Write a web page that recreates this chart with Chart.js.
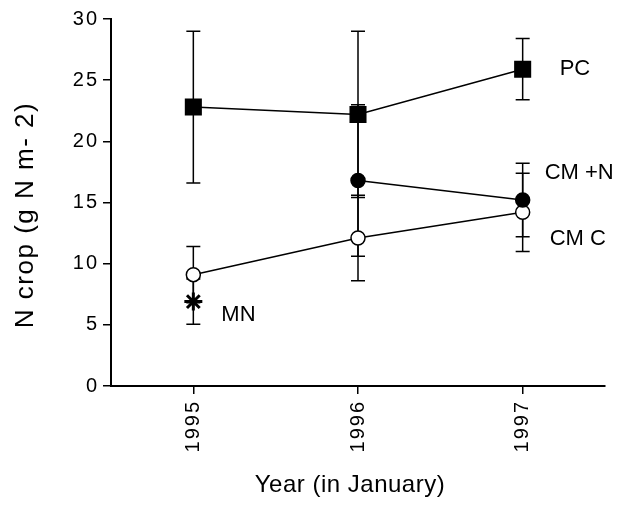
<!DOCTYPE html>
<html>
<head>
<meta charset="utf-8">
<script src="https://cdn.jsdelivr.net/npm/chart.js@4.4.1/dist/chart.umd.min.js"></script>
<style>
  html, body { margin: 0; padding: 0; background: #fff; }
  canvas { display: block; }
</style>
</head>
<body>
<canvas id="nCropChart" width="618" height="519"></canvas>
<script>
// --- data ---
const years = ['1995', '1996', '1997'];
const yTicks = [0, 5, 10, 15, 20, 25, 30];

const pcValues   = [22.8, 22.2, 25.9];
const pcErrors   = [6.2, 6.8, 2.5];
const cmnValues  = [null, 16.8, 15.2];
const cmnErrors  = [null, 6.2, 3.0];
const cmcValues  = [9.1, 12.1, 14.2];
const cmcErrors  = [2.3, 3.5, 3.2];
const mnValues   = [6.9, null, null];
const mnErrors   = [1.85, null, null];

const seriesNames = ['PC', 'CM +N', 'CM C', 'MN'];

const FONT = '"Liberation Sans", Arial, Helvetica, sans-serif';

// error bars drawn under the markers
const errorBars = {
  id: 'errorBars',
  beforeDatasetsDraw(chart) {
    const { ctx, scales: { y } } = chart;
    ctx.save();
    ctx.strokeStyle = '#000';
    ctx.lineWidth = 1.5;
    chart.data.datasets.forEach((ds, i) => {
      const meta = chart.getDatasetMeta(i);
      meta.data.forEach((pt, j) => {
        const v = ds.data[j], e = ds.errors[j];
        if (v == null || e == null) return;
        const x = pt.x;
        const top = y.getPixelForValue(v + e);
        const bot = y.getPixelForValue(v - e);
        ctx.beginPath();
        ctx.moveTo(x, top); ctx.lineTo(x, bot);
        ctx.moveTo(x - 7, top); ctx.lineTo(x + 7, top);
        ctx.moveTo(x - 7, bot); ctx.lineTo(x + 7, bot);
        ctx.stroke();
      });
    });
    ctx.restore();
  }
};

// series names next to the points and axis titles
const labelOffsets = [
  { idx: 2, dx: 37, dy: 0 },
  { idx: 2, dx: 22, dy: -27 },
  { idx: 2, dx: 27, dy: 27 },
  { idx: 0, dx: 28, dy: 13 }
];

const annotations = {
  id: 'annotations',
  // canvas resize wipes context state, so set spacing right before use
  beforeLayout(chart) { chart.ctx.letterSpacing = '2px'; },
  beforeDraw(chart) { chart.ctx.letterSpacing = '2px'; },
  afterDraw(chart) {
    const { ctx } = chart;
    ctx.save();
    ctx.fillStyle = '#000';
    ctx.letterSpacing = '0px';
    ctx.font = '22px ' + FONT;
    ctx.textAlign = 'left';
    ctx.textBaseline = 'middle';
    labelOffsets.forEach((o, i) => {
      const pt = chart.getDatasetMeta(i).data[o.idx];
      ctx.fillText(seriesNames[i], pt.x + o.dx, pt.y + o.dy);
    });

    // axis titles
    ctx.font = '24px ' + FONT;
    ctx.textAlign = 'center';
    ctx.letterSpacing = '0.5px';
    ctx.fillText('Year (in January)', 350, 485);

    ctx.translate(26, 215);
    ctx.rotate(-Math.PI / 2);
    ctx.font = '26px ' + FONT;
    ctx.letterSpacing = '1.5px';
    ctx.fillText('N crop (g N m- 2)', 0, 0);
    ctx.restore();
  }
};

const common = {
  borderColor: '#000',
  borderWidth: 1.5,
  pointBorderColor: '#000',
  pointBorderWidth: 1.5,
  tension: 0
};

new Chart(document.getElementById('nCropChart'), {
  type: 'line',
  data: {
    labels: years,
    datasets: [
      { ...common, label: seriesNames[0], data: pcValues, errors: pcErrors,
        pointStyle: 'rect', pointRadius: 11, pointBackgroundColor: '#000' },
      { ...common, label: seriesNames[1], data: cmnValues, errors: cmnErrors,
        pointStyle: 'circle', pointRadius: 7, pointBackgroundColor: '#000' },
      { ...common, label: seriesNames[2], data: cmcValues, errors: cmcErrors,
        pointStyle: 'circle', pointRadius: 7, pointBackgroundColor: '#fff' },
      { ...common, label: seriesNames[3], data: mnValues, errors: mnErrors,
        showLine: false, pointStyle: 'star', pointRadius: 9, pointBorderWidth: 3,
        pointBackgroundColor: '#000' }
    ]
  },
  options: {
    responsive: false,
    animation: false,
    devicePixelRatio: 1,
    layout: { padding: { top: 19, right: 13, left: 0, bottom: 0 } },
    plugins: { legend: { display: false }, tooltip: { enabled: false } },
    scales: {
      x: {
        type: 'category',
        offset: true,
        afterFit(scale) { scale.height = 133; },
        border: { display: true, color: '#000', width: 2 },
        grid: { display: true, drawOnChartArea: false, drawTicks: true, tickLength: 8,
                color: '#000', lineWidth: 1.5 },
        ticks: { color: '#000', font: { family: FONT, size: 20 }, padding: 6,
                 minRotation: 90, maxRotation: 90 }
      },
      y: {
        min: 0,
        max: 30,
        afterFit(scale) { scale.width = 111; },
        afterBuildTicks(scale) { scale.ticks = yTicks.map(v => ({ value: v })); },
        border: { display: true, color: '#000', width: 2 },
        grid: { display: true, drawOnChartArea: false, drawTicks: true, tickLength: 8,
                color: '#000', lineWidth: 1.5 },
        ticks: { color: '#000', font: { family: FONT, size: 20 }, padding: 4 }
      }
    }
  },
  plugins: [errorBars, annotations]
});
</script>
</body>
</html>
